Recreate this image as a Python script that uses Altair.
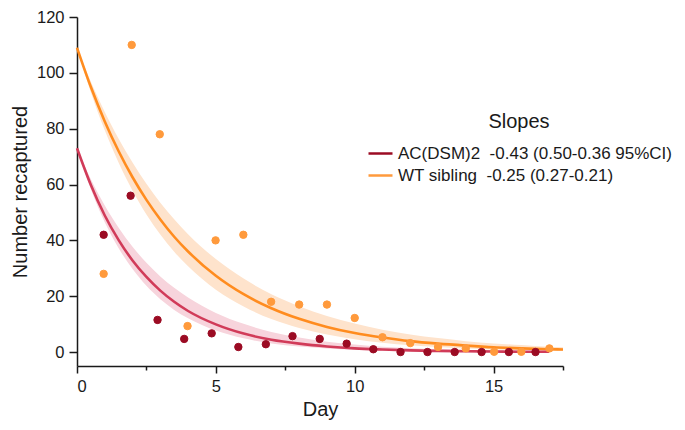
import altair as alt
import pandas as pd

# ---- data ----
LABELS = ["AC(DSM)2\u00a0\u00a0-0.43 (0.50-0.36 95%CI)",
          "WT sibling\u00a0\u00a0-0.25 (0.27-0.21)"]

# observed counts
ac_day = [0.96, 1.93, 2.9, 3.86, 4.85, 5.81, 6.8, 7.76, 8.74, 9.71,
          10.67, 11.65, 12.62, 13.6, 14.57, 15.55, 16.51]
ac_count = [42, 56, 11.5, 4.7, 6.7, 1.8, 2.8, 5.7, 4.7, 3.0,
            1.0, 0, 0, 0, 0, 0, 0]
wt_day = [0.96, 1.97, 2.98, 3.98, 4.99, 5.99, 6.99, 8.0, 9.0, 10.0,
          11.0, 12.0, 13.0, 14.0, 15.02, 16.0, 17.01]
wt_count = [28, 110, 78, 9.3, 40, 42, 18, 17, 17, 12.2,
            5.3, 3.2, 1.8, 1.3, 0.1, 0.1, 1.3]

# fitted curves and confidence bands
wt_cx = [0, 0.5, 1, 1.5, 2, 2.5, 3, 3.5, 4, 5, 6, 7, 8, 9, 10, 11, 12,
         13, 14, 15, 16, 17, 17.5]
wt_fit = [109, 94.9, 82.6, 71.9, 62.6, 54.5, 47.5, 41.3, 36.0, 27.3, 20.7,
          15.7, 11.9, 9.0, 6.8, 5.2, 3.9, 3.0, 2.3, 1.7, 1.3, 1.0, 0.9]
wt_hi = [109, 96.8, 86.0, 76.4, 67.9, 60.3, 53.5, 47.6, 42.2, 33.3, 26.3,
         20.7, 16.4, 12.9, 10.2, 8.0, 6.3, 5.0, 3.9, 3.1, 2.5, 1.9, 1.7]
wt_lo = [109, 93.0, 79.4, 67.8, 57.8, 49.3, 42.1, 35.9, 30.7, 22.3, 16.3,
         11.8, 8.6, 6.3, 4.6, 3.3, 2.4, 1.8, 1.3, 0.9, 0.7, 0.5, 0.4]

ac_cx = [0, 0.5, 1, 1.5, 2, 2.5, 3, 3.5, 4, 5, 6, 7, 8, 9, 10, 11, 12,
         13, 14, 15, 16, 17]
ac_fit = [73, 59.8, 48.9, 40.1, 32.8, 26.9, 22.0, 18.0, 14.7, 9.9, 6.6,
          4.4, 3.0, 2.0, 1.3, 0.9, 0.6, 0.4, 0.3, 0.2, 0.1, 0.1]
ac_hi = [73, 61.9, 52.5, 44.5, 37.7, 32.0, 27.1, 23.0, 19.5, 14.0, 10.1,
         7.2, 5.2, 3.7, 2.7, 1.9, 1.4, 1.0, 0.7, 0.5, 0.4, 0.3]
ac_lo = [73, 58.3, 46.5, 37.2, 29.7, 23.7, 18.9, 15.1, 12.1, 7.7, 4.9,
         3.1, 2.0, 1.3, 0.8, 0.5, 0.3, 0.2, 0.1, 0.1, 0.1, 0.0]

# ---- tables ----
points = pd.DataFrame({
    "day": ac_day + wt_day,
    "count": ac_count + wt_count,
    "label": [LABELS[0]] * len(ac_day) + [LABELS[1]] * len(wt_day),
})
wt_curve = pd.DataFrame({"day": wt_cx, "fit": wt_fit, "lo": wt_lo, "hi": wt_hi})
ac_curve = pd.DataFrame({"day": ac_cx, "fit": ac_fit, "lo": ac_lo, "hi": ac_hi})

FONT = "Liberation Sans"
INK = "#1a1a1a"

xscale = alt.Scale(domain=[0, 17.5], nice=False, zero=False)
yscale = alt.Scale(domain=[-5, 120], nice=False, zero=False)

y_axis = alt.Axis(values=[0, 20, 40, 60, 80, 100, 120], title="Number recaptured",
                  tickSize=8, labelPadding=5, titlePadding=6, grid=False)

x_major = alt.Axis(values=[0, 5, 10, 15], title="Day", tickSize=7,
                   labelPadding=5, titlePadding=5, grid=False, orient="bottom")
x_minor = alt.Axis(values=[2.5, 7.5, 12.5, 17.5], title=None, labels=False,
                   tickSize=4, domain=False, grid=False, orient="bottom")


def Y(field):
    return alt.Y(f"{field}:Q", scale=yscale, axis=y_axis)


band_wt = alt.Chart(wt_curve).mark_area(color="#fee3cc", interpolate="monotone").encode(
    x=alt.X("day:Q", scale=xscale, axis=x_minor),
    y=Y("lo"), y2="hi:Q")
band_ac = alt.Chart(ac_curve).mark_area(color="#f7d4dc", interpolate="monotone").encode(
    x=alt.X("day:Q", scale=xscale, axis=None),
    y=Y("lo"), y2="hi:Q")
line_wt = alt.Chart(wt_curve).mark_line(color="#ff8c1f", strokeWidth=2.6,
                                        interpolate="monotone").encode(
    x=alt.X("day:Q", scale=xscale, axis=x_major),
    y=Y("fit"))
line_ac = alt.Chart(ac_curve).mark_line(color="#d13b59", strokeWidth=2.6,
                                        interpolate="monotone").encode(
    x=alt.X("day:Q", scale=xscale, axis=None),
    y=Y("fit"))

pt_scale = alt.Scale(domain=LABELS, range=["#9b0b23", "#ff9a3c"])
legend = alt.Legend(orient="none", legendX=290, legendY=95,
                    symbolType="stroke", symbolSize=576,
                    symbolStrokeWidth=2.5, rowPadding=0,
                    labelOffset=4, padding=0,
                    titleAnchor="middle", titleAlign="center",
                    titlePadding=8, labelLimit=400)
pts = alt.Chart(points).mark_circle(size=55, opacity=1, strokeWidth=1).encode(
    x=alt.X("day:Q", scale=xscale, axis=None),
    y=Y("count"),
    fill=alt.Fill("label:N", scale=pt_scale, title="Slopes", legend=legend),
    stroke=alt.Stroke("label:N", scale=pt_scale, title="Slopes", legend=legend),
)

chart = alt.layer(band_wt, band_ac, line_wt, line_ac, pts).resolve_axis(
    x="independent"
).properties(
    width=486, height=349,
    autosize=alt.AutoSizeParams(type="none"),
    padding={"left": 69, "top": 9, "right": 112, "bottom": 56},
).configure_view(stroke=None).configure_axis(
    domainColor=INK, domainWidth=1.5, tickColor=INK, tickWidth=1.5,
    labelColor=INK, labelFont=FONT, labelFontSize=16.5,
    titleColor=INK, titleFont=FONT, titleFontSize=20, titleFontWeight="normal",
).configure_legend(
    labelFont=FONT, labelFontSize=17, labelColor=INK,
    titleFont=FONT, titleFontSize=20, titleFontWeight="normal", titleColor=INK,
)

chart.save("out.html", embed_options={"renderer": "svg", "actions": False})
